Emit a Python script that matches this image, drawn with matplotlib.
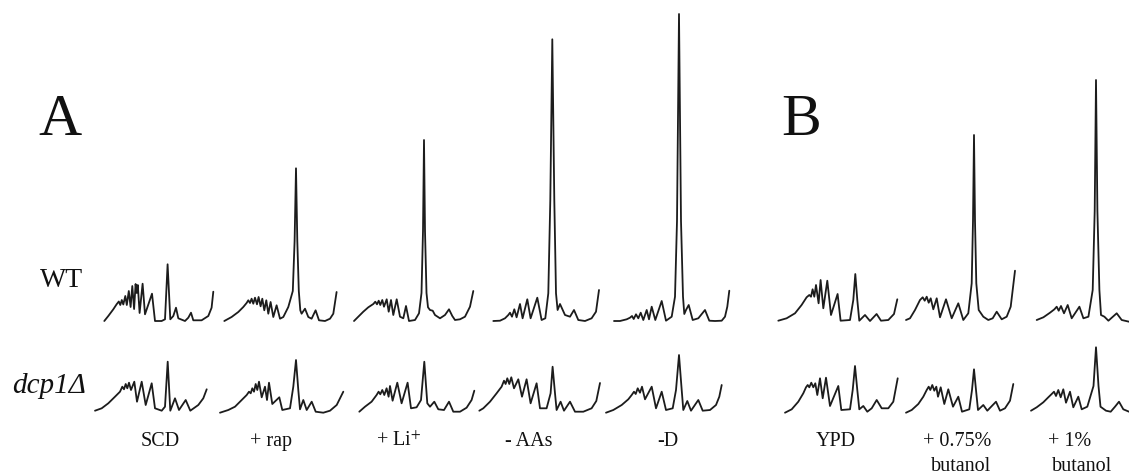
import matplotlib
matplotlib.use("Agg")
import matplotlib.pyplot as plt

plt.rcParams['mathtext.fontset'] = 'stix'

# ---------------- data: polysome profiles (gradient position, A254 a.u.) ----------------
conditions_A = ["SCD", "+ rap", "+ Li$^{+}$", "- AAs", "-D"]
conditions_B_line1 = ["YPD", "+ 0.75%", "+ 1%"]
conditions_B_line2 = ["", "butanol", "butanol"]
strains = ["WT", "dcp1\u0394"]

wt_scd = [(0,0),(4,5),(9,11.7),(12.3,16.7),(14.5,19.5),(16,16),(17.5,21),(19,16.5),(21,25),(22.5,16),
          (24.5,30),(26.3,14),(28,35),(29.8,12),(31.3,37),(32.4,28),(33.5,36),(35.3,8),(38.3,37.3),
          (40.7,6.7),(47.7,27.3),(50.7,0),(57.3,0),(60.7,1.7),(63.3,56.7),(66,1.7),(69,5),(71.7,13.3),
          (74,2.7),(80.7,0),(84,3.3),(86.7,8.3),(89,0.7),(97.3,0.7),(104,5),(107.3,13.3),(109,29.3)]
wt_rap = [(0,0),(7.3,4),(14,9),(19,14),(22.3,18),(24,20.7),(25.7,18),(27.3,22.3),(29,17.3),(30.7,23.3),
          (32.7,16.7),(34.3,24),(36.3,14.7),(38,22.3),(40,10.7),(42,20.7),(44,7.3),(46.3,19),(49,4),
          (52.3,15.7),(55.7,2.3),(59,4),(64,14),(68.5,30),(70.3,80),(71.7,152.7),(73,80),(74.5,30),(76,10.7),
          (77.3,7.3),(80.7,12.3),(84,4),(87.3,2.3),(91.3,10.7),(94.7,0.7),(100.7,0),(105.7,2.3),(109,7.3),
          (112.3,29)]
wt_li = [(0,0),(4.3,4.3),(9.3,9.3),(14.3,13.7),(19.3,17),(21.3,19.3),(23,16.7),(24.7,20.3),(26.3,16),
         (28.3,21),(30,14.3),(32.7,21.7),(34.7,9.3),(37,21),(39.3,6),(42.7,21.7),(46,4.3),(49.3,2.7),
         (52,15),(55,0),(61,1),(65,7.7),(67.5,28),(69,90),(70,181),(71,90),(72.5,28),(74,13.7),(76,11),
         (78.7,10.3),(81,6),(86,2.7),(91,6),(95,11.7),(98.3,5),(101,1),(106,1.7),(111,4.3),(116,14.3),
         (119.3,30)]
wt_aas = [(0,0),(6.7,0.3),(11.7,2.7),(15,6),(16.7,8.3),(18.7,4.3),(21,11.7),(23.3,3.7),(26.7,17),
          (29.3,2.7),(34,21.7),(37.3,2.7),(44,23.3),(48.3,1),(52,2.7),(55,27.7),(57,121),(59,281.7),
          (61,121),(62.7,27.7),(64.3,11),(66.7,17),(71.7,6),(76.7,4.3),(80.7,11),(85,1),(91.7,0),
          (98.3,2.7),(102.7,9.3),(105.7,31)]
wt_d = [(0,0),(6,0),(12.7,1.7),(16,3.3),(18,5),(19.7,2),(22,6.7),(24.3,2.7),(26.7,8.3),(29.3,1),
        (32.7,11),(35,1.7),(37.7,14.3),(41.3,1),(47.7,20),(52,0.3),(57.7,4.3),(61,24.3),(63,100),
        (65,307),(67,100),(69,24.3),(70.3,7),(72,11),(74.7,16),(78.7,1),(84.3,2.7),(91,11),(95.3,0.3),
        (101,0),(107.7,0.3),(111,4.3),(113.3,14.3),(115.3,30.3)]
wt_ypd = [(0,0.3),(8.3,2.7),(16.7,7.7),(23.3,16),(28.3,23.7),(31,26),(32.7,24.3),(34.3,31.7),(36,24.3),
          (37.7,36),(40.3,17.7),(42.3,41),(45,12.7),(49,40.3),(52.7,6),(59.3,27),(62.3,0.3),(71.7,1),
          (75,21),(77,47),(79,21),(81,0.3),(86.7,6),(91.7,0),(98.3,7),(102.7,0.3),(110,1),(115.7,7),
          (119,21.7)]
wt_but075 = [(0,1),(4,2.7),(9,11),(14,21),(16.7,23.7),(18.7,20.3),(20.7,24.3),(22.7,18.3),(24.7,22.7),
             (27.3,11.7),(30.7,22.7),(34,3.7),(40,21.7),(45.7,2.7),(52.3,17.7),(57.3,1),(62.3,7.7),
             (65.7,37.7),(67,100),(68,186),(69,100),(70.3,37.7),(72.7,11),(77.3,4.3),(82.3,1),(86.7,2.7),
             (90.7,9.3),(95.7,1.7),(100.7,4.3),(104.7,14.3),(109,50.3)]
wt_but1 = [(0,1),(6.7,3.7),(13.3,8.3),(17.7,11.7),(20,14.3),(22,10.3),(24.3,15),(27.3,7.7),(31,16),
           (35,2.7),(42.7,14.3),(46.7,2.7),(51.7,4.3),(56,31),(58,110),(59.3,241),(60.7,110),(62.7,31),
           (64.3,6),(67.7,4.3),(71.7,0.3),(80,7.7),(85,1),(92.3,-0.7),(96,0)]

dcp_scd = [(0,0.3),(6.7,2.7),(13.3,7.7),(20,14.3),(25,19.3),(27.3,24.3),(29,21.7),(30.7,27),(32.3,22.7),
           (34,28.3),(36,21),(39.3,29.3),(42,9.3),(46.7,29.3),(50.7,6),(56.7,27.7),(60,2.7),(66.7,0.3),
           (70,4.3),(72.7,49.3),(75.3,0.3),(80,12.7),(84,1),(90.7,11),(95.3,0.3),(103.3,6),(108.3,12.7),
           (111.7,21.7)]
dcp_rap = [(0,-1.7),(8.3,1),(15,4.3),(21.7,11),(26.7,16),(29,19.3),(30.7,17.7),(32.3,22.7),(34,19.3),
           (35.7,27),(37.3,21),(39,29.3),(41.7,13.7),(45,24.3),(47,11),(49,28.3),(52.3,7),(59.3,13.7),
           (62.3,1),(70,2.7),(73.3,24.3),(76,51),(78.3,21),(80,1.7),(83.3,11),(86.7,1),(91.7,9.3),
           (95.7,-0.7),(103.3,-1.7),(110,0.3),(116.7,6),(123.3,19.3)]
dcp_li = [(0,-0.7),(5.7,4.3),(12.3,9.3),(17.3,16),(19.3,19.3),(21,16.7),(23,21),(25,16),(27.3,22.7),
          (29.3,14.3),(30.7,25),(33.3,10.3),(38,28.3),(42.3,7.7),(48.3,28.3),(51.7,2.7),(57.3,3.7),
          (61.7,11),(65,49.3),(68,7.7),(70.7,4.3),(75,9.3),(79,1.7),(84.7,1),(89.7,9.3),(94,-0.7),
          (100.7,-0.7),(107.3,3.3),(112.3,11),(115,20.3)]
dcp_aas = [(0,0.3),(4,2.7),(10.7,9.3),(17.3,17.7),(22.3,24.3),(24.7,30.3),(26.3,27),(28,32.7),(30,27),
           (32,33.7),(34.7,22.7),(39,31.7),(42.7,14.3),(47.3,31.7),(51.3,7.7),(57.3,27.7),(60.7,2.7),
           (67.3,2.7),(71.3,17.7),(73.3,44.3),(75.7,17.7),(77.3,1),(81.3,9.3),(84.7,0.3),(90.7,9.3),
           (95.7,-0.7),(104,-0.7),(112.3,2.7),(117,10),(120.7,28)]
dcp_d = [(0,-1.7),(7.3,1),(15.7,6),(22.3,11.7),(25.7,16),(28,19.3),(29.7,17),(31.7,22.7),(34,18.3),
         (36,24.3),(39,11.7),(45.7,24.3),(50,2.7),(55.7,19.3),(60,1),(66.7,2.7),(70,21),(73,56),(75.7,21),
         (77.3,1),(81.3,10),(85,0.3),(92.3,11),(96.7,0.3),(104,1),(110,6),(113.3,14.3),(115.7,26)]
dcp_ypd = [(0,-1.7),(6.7,1.7),(13.3,9.3),(18.3,17.7),(21,23.7),(22.7,26),(24.3,23.7),(26.3,28.3),
           (28.3,23.7),(30.3,27.7),(32.3,16),(35,32.7),(37.7,12.7),(41,33.3),(45,5),(53.3,25),(56.3,1),
           (65,1.7),(67.7,21),(70,45),(72.3,21),(74.3,1.7),(78.3,5),(82.3,-0.7),(86.7,2.7),(91.7,11),
           (96.7,2.7),(103.3,2.7),(108.3,9.3),(112.7,32.7)]
dcp_but075 = [(0,-1.7),(5.7,1),(12.3,7),(17.3,14.3),(20.7,21),(22.7,24.3),(24.3,21),(26.3,26),(28.3,20.3),
              (30.3,24.3),(32,14.3),(34.7,23.7),(38.3,7),(42.3,21.7),(47,4.3),(52.3,14.3),(56,-0.7),
              (63.3,1.7),(66,21),(68,41.7),(70,21),(72,1),(77.3,6),(81.3,0.3),(90,9.3),(94,0.3),(99,2.7),
              (104,10.3),(107.3,27)]
dcp_but1 = [(0,0.3),(5.7,3.7),(12.3,8.7),(17.3,13.7),(20.7,17),(23,19.3),(25,15),(27.3,21),(29.7,13.7),
            (32.3,21.7),(35,8.3),(39,19.3),(42.3,3.7),(47.3,14.3),(50.7,1.7),(56.3,4.3),(62.5,25),
            (65,63.7),(67.5,25),(69.5,4.3),(75,0.3),(79.7,-0.7),(84,4.3),(88,9.3),(92.3,1.7),(98,-0.7)]

# ---------------- layout ----------------
W, H = 1129, 476
fig = plt.figure(figsize=(W / 100, H / 100), dpi=100)
fig.patch.set_facecolor("white")

LINE = "#1c1c1c"
SERIF = ["Liberation Serif", "DejaVu Serif"]

rows = [
    (321, [(104.3, wt_scd), (224.3, wt_rap), (354, wt_li), (493.3, wt_aas), (614, wt_d),
           (778.3, wt_ypd), (906, wt_but075), (1036.7, wt_but1)]),
    (411, [(95, dcp_scd), (220, dcp_rap), (359.3, dcp_li), (479.3, dcp_aas), (606, dcp_d),
           (785, dcp_ypd), (906, dcp_but075), (1031, dcp_but1)]),
]

AX_W, AX_H = 140, 330  # pixels; 1 data unit == 1 pixel
for baseline, traces in rows:
    for x0, prof in traces:
        ax = fig.add_axes([x0 / W, (H - baseline - 5) / H, AX_W / W, AX_H / H])
        ax.set_xlim(0, AX_W)
        ax.set_ylim(-5, AX_H - 5)
        ax.patch.set_alpha(0)
        ax.axis("off")
        xs = [p[0] for p in prof]
        ys = [p[1] for p in prof]
        ax.plot(xs, ys, color=LINE, lw=1.3, clip_on=False,
                solid_joinstyle="round", solid_capstyle="round")


def ftext(x, y, s, **kw):
    fig.text(x / W, 1 - y / H, s, family=SERIF, color="#111111", **kw)


# panel letters
ftext(38, 135, "A", fontsize=43, ha="left", va="baseline")
ftext(781, 135, "B", fontsize=43, ha="left", va="baseline")

# row labels
ftext(40, 287, strains[0], fontsize=20, ha="left", va="baseline")
ftext(12, 393, strains[1], fontsize=21, ha="left", va="baseline", style="italic")

# condition labels
cond_x_A = [160, 271, 399, 529, 668]
for cx, lab in zip(cond_x_A, conditions_A):
    ftext(cx, 446, lab, fontsize=14.5, ha="center", va="baseline")

cond_x_B1 = [836, 957, 1070]
cond_x_B2 = [836, 961, 1082]
for cx, lab in zip(cond_x_B1, conditions_B_line1):
    ftext(cx, 446, lab, fontsize=14.5, ha="center", va="baseline")
for cx, lab in zip(cond_x_B2, conditions_B_line2):
    if lab:
        ftext(cx, 471, lab, fontsize=14.5, ha="center", va="baseline")

fig.savefig("out.png", dpi=100, facecolor="white")
